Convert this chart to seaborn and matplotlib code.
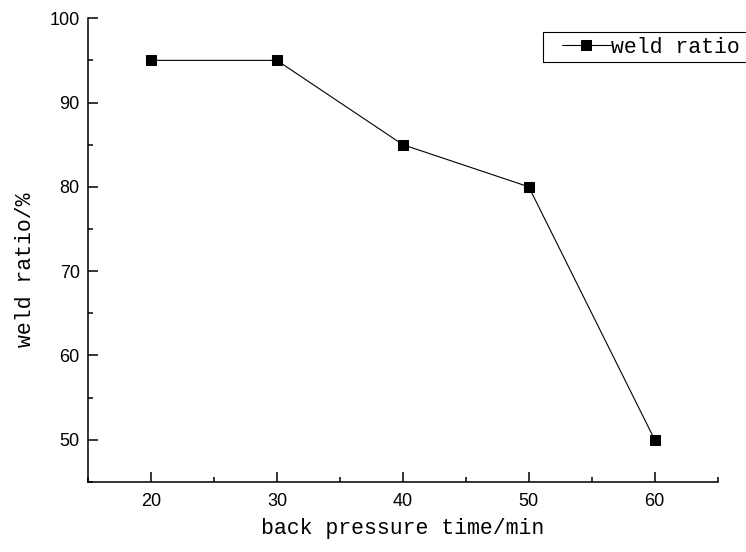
import matplotlib
matplotlib.use("Agg")
import matplotlib.pyplot as plt
from matplotlib.legend_handler import HandlerLine2D
from matplotlib.patches import Rectangle
from matplotlib.ticker import MultipleLocator
import seaborn as sns
import pandas as pd

# data
back_pressure_time = [20, 30, 40, 50, 60]
weld_ratio = [95, 95, 85, 80, 50]

df = pd.DataFrame({"time": back_pressure_time, "ratio": weld_ratio})

sns.set_style("ticks")
plt.rcParams["font.family"] = ["Liberation Sans", "DejaVu Sans"]
plt.rcParams["text.color"] = "black"
plt.rcParams["axes.labelcolor"] = "black"

mono = ["Liberation Mono", "DejaVu Sans Mono"]

fig = plt.figure(figsize=(7.46, 5.52), dpi=100)
ax = fig.add_axes([0.118, 0.127, 0.844, 0.840])

sns.lineplot(data=df, x="time", y="ratio", ax=ax, color="black",
             marker="s", markersize=7, markeredgecolor="black",
             linewidth=0.8, label="weld ratio")

ax.set_xlim(15, 65)
ax.set_ylim(45, 100)
ax.xaxis.set_minor_locator(MultipleLocator(5))
ax.yaxis.set_minor_locator(MultipleLocator(5))
ax.set_xticks([20, 30, 40, 50, 60])
ax.set_yticks([50, 60, 70, 80, 90, 100])

sns.despine(ax=ax)
for s in ["left", "bottom"]:
    ax.spines[s].set_linewidth(1.1)
    ax.spines[s].set_color("black")

ax.tick_params(which="major", direction="in", length=7, width=1.1,
               labelsize=13, colors="black")
ax.tick_params(which="minor", direction="in", length=3.6, width=1.1,
               colors="black")
ax.tick_params(axis="x", which="major", pad=8)
ax.tick_params(axis="y", which="major", pad=6)

ax.set_xlabel("back pressure time/min", family=mono, fontsize=15.5,
              labelpad=6, color="black")
ax.set_ylabel("weld ratio/%", family=mono, fontsize=15.5, color="black")
ax.yaxis.set_label_coords(-0.083, 0.457)

handles, labels = ax.get_legend_handles_labels()
leg = ax.legend(handles, labels, loc="upper left",
                bbox_to_anchor=(543 / 746, 1 - 32 / 552),
                bbox_transform=fig.transFigure, borderaxespad=0,
                borderpad=0.22, handlelength=2.95, handletextpad=0,
                frameon=False,
                prop={"family": mono, "size": 15.5},
                handler_map={handles[0]: HandlerLine2D(xpad=0.65)})
for t in leg.get_texts():
    t.set_color("black")

# legend frame runs past the right edge of the figure, as in the reference
fig.canvas.draw()
bb = leg.get_window_extent().transformed(fig.transFigure.inverted())
fig.patches.append(Rectangle((bb.x0, bb.y0), 0.4, bb.height,
                             transform=fig.transFigure, fill=False,
                             edgecolor="black", linewidth=0.8))

fig.savefig("out.png", dpi=100)
